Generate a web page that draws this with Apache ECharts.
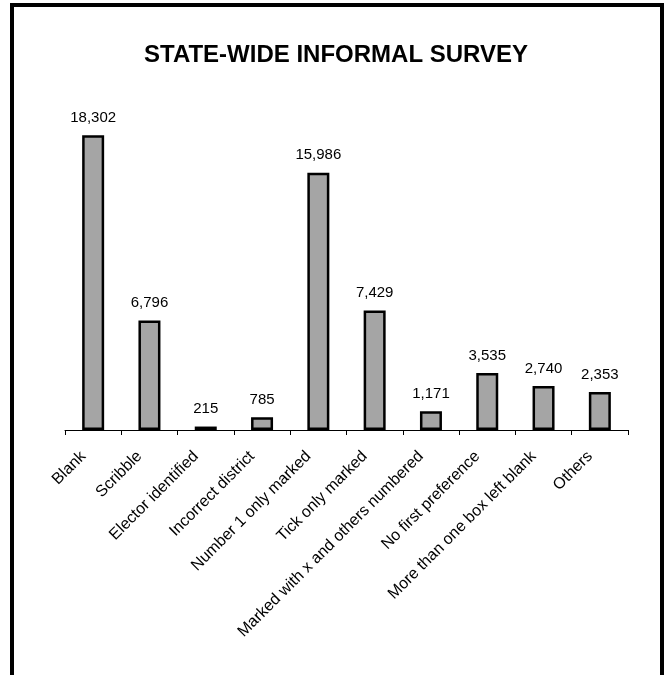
<!DOCTYPE html>
<html>
<head>
<meta charset="utf-8">
<title>State-wide informal survey</title>
<script src="https://cdn.jsdelivr.net/npm/echarts@6/dist/echarts.min.js"></script>
<style>
  html, body { margin: 0; padding: 0; background: #ffffff; }
  #chart { width: 667px; height: 675px; }
</style>
</head>
<body>
<div id="chart"></div>
<script>
// Informal ballot categories and counts
const categories = [
  'Blank',
  'Scribble',
  'Elector identified',
  'Incorrect district',
  'Number 1 only marked',
  'Tick only marked',
  'Marked with x and others numbered',
  'No first preference',
  'More than one box left blank',
  'Others'
];
const informalCounts = [18302, 6796, 215, 785, 15986, 7429, 1171, 3535, 2740, 2353];
const chartTitle = 'STATE-WIDE INFORMAL SURVEY';

const FONT = '"Liberation Sans", Arial, sans-serif';
const fmt = v => Number(v).toLocaleString('en-US');

const chart = echarts.init(document.getElementById('chart'), null, { renderer: 'canvas' });

chart.setOption({
  backgroundColor: '#ffffff',
  animation: false,
  title: {
    text: chartTitle,
    left: 139,
    top: 38,
    textStyle: { fontFamily: FONT, fontSize: 24, fontWeight: 'bold', color: '#000' }
  },
  graphic: [{
    // frame around the chart (open at the bottom edge of the page)
    type: 'rect',
    silent: true,
    shape: { x: 12, y: 5, width: 650, height: 720 },
    style: { fill: 'none', stroke: '#000', lineWidth: 4 }
  }],
  grid: { left: 65, right: 39, top: 108, bottom: 245, containLabel: false },
  xAxis: {
    type: 'category',
    data: categories,
    boundaryGap: true,
    axisLine: { show: true, lineStyle: { color: '#000', width: 1 } },
    axisTick: { show: true, alignWithLabel: false, length: 5, lineStyle: { color: '#000', width: 1 } },
    axisLabel: {
      interval: 0,
      rotate: 45,
      margin: 14,
      padding: [0, 14, 0, 0],
      fontFamily: FONT,
      fontSize: 16,
      color: '#000'
    },
    splitLine: { show: false }
  },
  yAxis: {
    type: 'value',
    min: 0,
    max: 20000,
    show: false,
    splitLine: { show: false }
  },
  series: [{
    type: 'bar',
    data: informalCounts,
    barWidth: 22,
    itemStyle: { color: '#a5a5a5', borderColor: '#000', borderWidth: 2.5 },
    label: {
      show: true,
      position: 'top',
      distance: 10,
      formatter: p => fmt(p.value),
      fontFamily: FONT,
      fontSize: 15,
      color: '#000'
    }
  }]
});
</script>
</body>
</html>
